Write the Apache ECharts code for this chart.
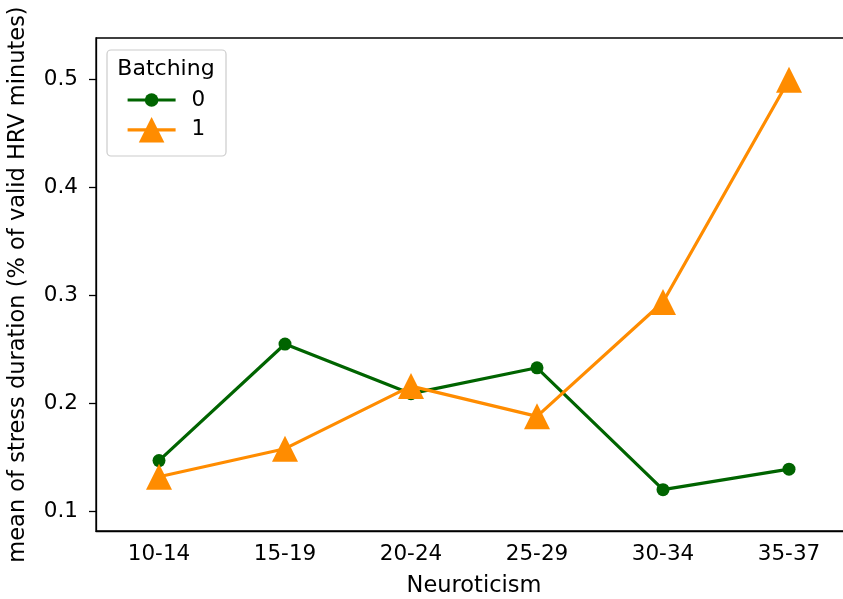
<!DOCTYPE html>
<html>
<head>
<meta charset="utf-8">
<script src="https://cdn.jsdelivr.net/npm/echarts@6/dist/echarts.min.js"></script>
<style>
  html, body { margin: 0; padding: 0; background: #fff; }
  #chart { width: 843px; height: 599px; }
</style>
</head>
<body>
<div id="chart"></div>
<script>
// Neuroticism bands on the x axis
const categories = ['10-14', '15-19', '20-24', '25-29', '30-34', '35-37'];
// Mean stress duration per band, split by batching group
const batching0 = [0.147, 0.255, 0.209, 0.233, 0.120, 0.139];
const batching1 = [0.132, 0.158, 0.216, 0.188, 0.294, 0.500];
const yTicks = [0.1, 0.2, 0.3, 0.4, 0.5];
const seriesNames = ['0', '1'];
const legendTitle = 'Batching';

const FONT = 'DejaVu Sans';
const GREEN = '#006400';
const ORANGE = '#ff8c00';
const FS = 21.5;
const FS_NAME = 22.5;
const LINE_W = 3.2;

const chart = echarts.init(document.getElementById('chart'), null, { renderer: 'canvas' });

chart.setOption({
  animation: false,
  backgroundColor: '#fff',
  textStyle: { fontFamily: FONT, color: '#000' },
  grid: {
    left: 96, top: 38, right: -9, bottom: 68,
    show: true, borderColor: '#000', borderWidth: 1.3,
    backgroundColor: 'transparent',
    containLabel: false, outerBoundsMode: 'none'
  },
  xAxis: {
    type: 'category',
    data: categories,
    boundaryGap: true,
    name: 'Neuroticism',
    nameLocation: 'middle',
    nameGap: 44,
    nameTextStyle: { fontFamily: FONT, fontSize: FS_NAME, color: '#000' },
    axisLine: { lineStyle: { color: '#000', width: 1.3 } },
    axisTick: { alignWithLabel: true, length: 7, lineStyle: { color: '#000', width: 1.3 } },
    axisLabel: { fontFamily: FONT, fontSize: FS, color: '#000', margin: 12 },
    splitLine: { show: false }
  },
  yAxis: {
    type: 'value',
    min: 0.0817,
    max: 0.5387,
    name: 'mean of stress duration (% of valid HRV minutes)',
    nameLocation: 'middle',
    nameGap: 66,
    nameTextStyle: { fontFamily: FONT, fontSize: FS_NAME, color: '#000' },
    axisLine: { show: true, lineStyle: { color: '#000', width: 1.3 } },
    axisTick: { show: true, length: 7, customValues: yTicks, lineStyle: { color: '#000', width: 1.3 } },
    axisLabel: {
      fontFamily: FONT, fontSize: FS, color: '#000', margin: 18,
      customValues: yTicks,
      formatter: v => v.toFixed(1)
    },
    splitLine: { show: false }
  },
  legend: [
    {
      data: [seriesNames[0]],
      left: 126, top: 89,
      z: 20,
      orient: 'vertical',
      padding: 0,
      itemWidth: 48, itemHeight: 17,
      lineStyle: { width: LINE_W },
      textStyle: { fontFamily: FONT, fontSize: FS, color: '#000', padding: [0, 0, 0, 11] }
    },
    {
      data: [seriesNames[1]],
      left: 126, top: 117,
      z: 20,
      orient: 'vertical',
      padding: 0,
      itemWidth: 48, itemHeight: 32,
      lineStyle: { width: LINE_W },
      textStyle: { fontFamily: FONT, fontSize: FS, color: '#000', padding: [0, 0, 0, 11] }
    }
  ],
  graphic: [
    {
      type: 'rect',
      z: 5,
      shape: { x: 107, y: 50, width: 119, height: 106, r: 4 },
      style: { fill: 'rgba(255,255,255,0.8)', stroke: '#cccccc', lineWidth: 1.2 }
    },
    {
      type: 'text',
      z: 21,
      x: 166, y: 69,
      style: {
        text: legendTitle, fontFamily: FONT, fontSize: 22, fill: '#000',
        align: 'center', verticalAlign: 'middle'
      }
    }
  ],
  series: [
    {
      name: seriesNames[0],
      type: 'line',
      data: batching0,
      symbol: 'circle',
      symbolSize: 13,
      showAllSymbol: true,
      lineStyle: { color: GREEN, width: LINE_W },
      itemStyle: { color: GREEN },
      z: 2
    },
    {
      name: seriesNames[1],
      type: 'line',
      data: batching1,
      symbol: 'triangle',
      symbolSize: 26,
      showAllSymbol: true,
      lineStyle: { color: ORANGE, width: LINE_W },
      itemStyle: { color: ORANGE },
      z: 3
    }
  ]
});
</script>
</body>
</html>
